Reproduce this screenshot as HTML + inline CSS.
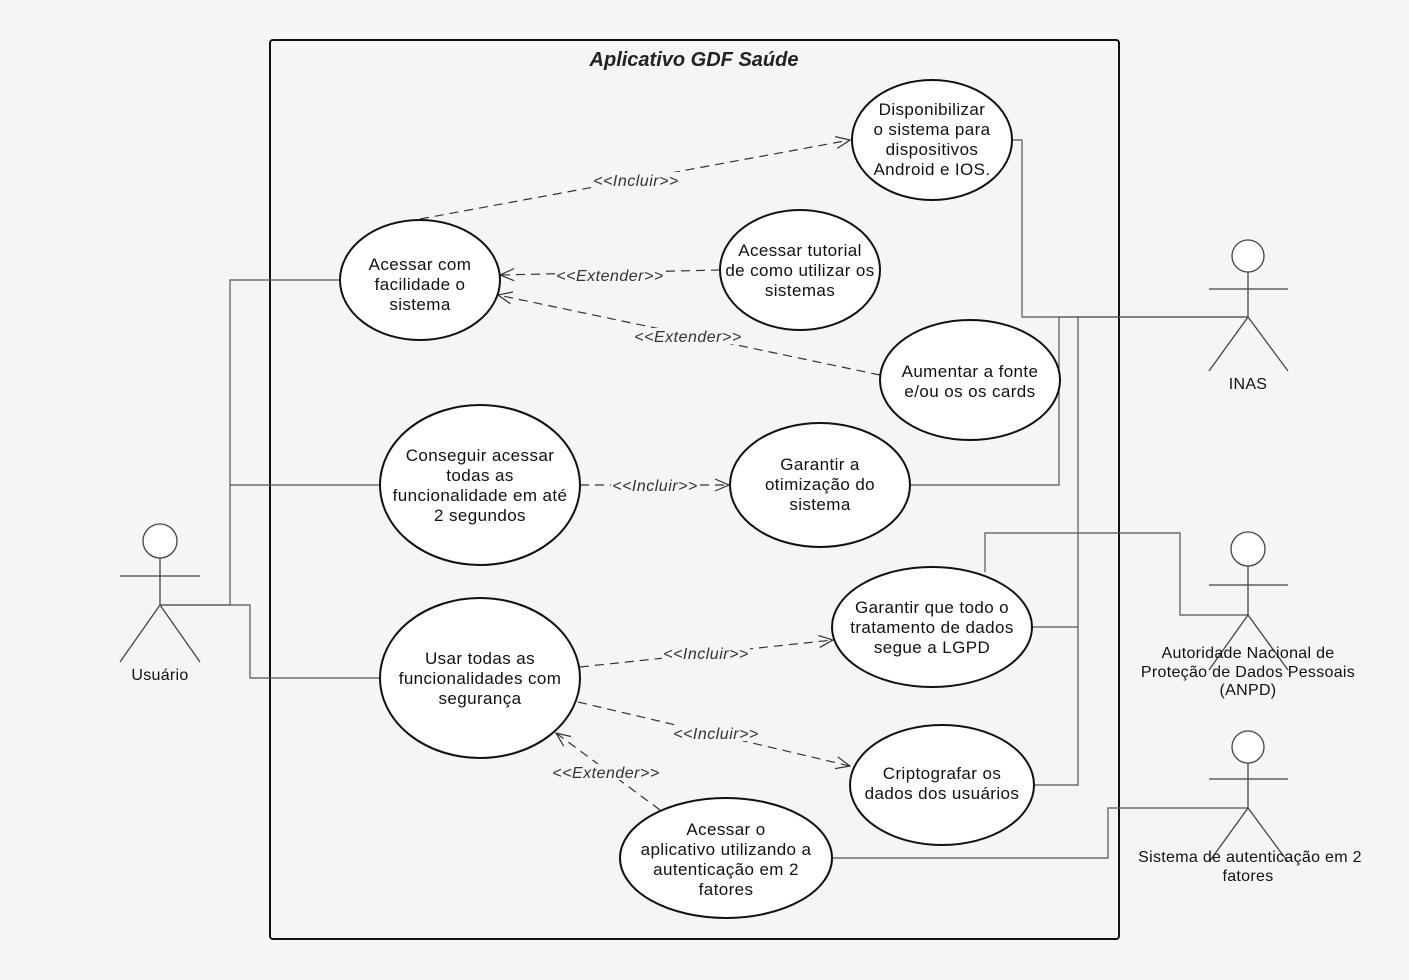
<!DOCTYPE html>
<html><head><meta charset="utf-8"><style>
html,body{margin:0;padding:0;background:#f5f5f5}
svg{display:block;font-family:"Liberation Sans",sans-serif}
</style></head><body>
<svg width="1409" height="980" viewBox="0 0 1409 980" xmlns="http://www.w3.org/2000/svg">
<defs>
<marker id="a" markerWidth="16" markerHeight="14" refX="15" refY="7" orient="auto" markerUnits="userSpaceOnUse">
<path d="M1,1 L15,7 L1,13" fill="none" stroke="#333" stroke-width="1.2"/></marker>
</defs>
<rect width="1409" height="980" fill="#f5f5f5"/>
<rect x="270" y="40" width="849" height="899" rx="3" fill="none" stroke="#111" stroke-width="2"/>
<text x="694" y="66" text-anchor="middle" font-size="20" font-weight="bold" font-style="italic" fill="#222">Aplicativo GDF Saúde</text>

<g fill="none" stroke="#555" stroke-width="1.2">
<path d="M1012,140 H1022 V317 H1248"/>
<path d="M910,485 H1059 V317 H1248"/>
<path d="M1032,627 H1078 V317"/>
<path d="M1033,785 H1078 V627"/>
<path d="M985,572 V533 H1180 V615 H1248"/>
<path d="M832,858 H1108 V808 H1248"/>
<path d="M160,605 H230 V280 H340"/>
<path d="M230,485 H380"/>
<path d="M160,605 H250 V678 H380"/>
</g>

<g fill="none" stroke="#333" stroke-width="1.2" stroke-dasharray="9,6">
<line x1="420" y1="219" x2="850" y2="140" marker-end="url(#a)"/>
<line x1="720" y1="270" x2="500" y2="275" marker-end="url(#a)"/>
<line x1="880" y1="375" x2="498" y2="295" marker-end="url(#a)"/>
<line x1="580" y1="485" x2="729" y2="485" marker-end="url(#a)"/>
<line x1="580" y1="667" x2="833" y2="640" marker-end="url(#a)"/>
<line x1="578" y1="702" x2="850" y2="766" marker-end="url(#a)"/>
<line x1="660" y1="810" x2="556" y2="733" marker-end="url(#a)"/>
</g>
<g font-size="16" font-style="italic" fill="#333" text-anchor="middle" letter-spacing="0.5">
<rect x="592" y="172" width="88" height="16" fill="#f5f5f5"/><text x="636" y="186">&lt;&lt;Incluir&gt;&gt;</text>
<rect x="556" y="267" width="108" height="16" fill="#f5f5f5"/><text x="610" y="281">&lt;&lt;Extender&gt;&gt;</text>
<rect x="634" y="328" width="108" height="16" fill="#f5f5f5"/><text x="688" y="342">&lt;&lt;Extender&gt;&gt;</text>
<rect x="611" y="477" width="88" height="16" fill="#f5f5f5"/><text x="655" y="491">&lt;&lt;Incluir&gt;&gt;</text>
<rect x="662" y="645" width="88" height="16" fill="#f5f5f5"/><text x="706" y="659">&lt;&lt;Incluir&gt;&gt;</text>
<rect x="672" y="725" width="88" height="16" fill="#f5f5f5"/><text x="716" y="739">&lt;&lt;Incluir&gt;&gt;</text>
<rect x="552" y="764" width="108" height="16" fill="#f5f5f5"/><text x="606" y="778">&lt;&lt;Extender&gt;&gt;</text>
</g>

<g fill="#fff" stroke="#111" stroke-width="2">
<ellipse cx="932" cy="140" rx="80" ry="60"/>
<ellipse cx="420" cy="280" rx="80" ry="60"/>
<ellipse cx="800" cy="270" rx="80" ry="60"/>
<ellipse cx="970" cy="380" rx="90" ry="60"/>
<ellipse cx="480" cy="485" rx="100" ry="80"/>
<ellipse cx="820" cy="485" rx="90" ry="62"/>
<ellipse cx="932" cy="627" rx="100" ry="60"/>
<ellipse cx="480" cy="678" rx="100" ry="80"/>
<ellipse cx="942" cy="785" rx="92" ry="60"/>
<ellipse cx="726" cy="858" rx="106" ry="60"/>
</g>
<g font-size="17" fill="#111" text-anchor="middle" letter-spacing="0.4">
<text x="932" y="115">Disponibilizar</text><text x="932" y="135">o sistema para</text><text x="932" y="155">dispositivos</text><text x="932" y="175">Android e IOS.</text>
<text x="420" y="270">Acessar com</text><text x="420" y="290">facilidade o</text><text x="420" y="310">sistema</text>
<text x="800" y="256">Acessar tutorial</text><text x="800" y="276">de como utilizar os</text><text x="800" y="296">sistemas</text>
<text x="970" y="377">Aumentar a fonte</text><text x="970" y="397">e/ou os os cards</text>
<text x="480" y="461">Conseguir acessar</text><text x="480" y="481">todas as</text><text x="480" y="501">funcionalidade em até</text><text x="480" y="521">2 segundos</text>
<text x="820" y="470">Garantir a</text><text x="820" y="490">otimização do</text><text x="820" y="510">sistema</text>
<text x="932" y="613">Garantir que todo o</text><text x="932" y="633">tratamento de dados</text><text x="932" y="653">segue a LGPD</text>
<text x="480" y="664">Usar todas as</text><text x="480" y="684">funcionalidades com</text><text x="480" y="704">segurança</text>
<text x="942" y="779">Criptografar os</text><text x="942" y="799">dados dos usuários</text>
<text x="726" y="835">Acessar o</text><text x="726" y="855">aplicativo utilizando a</text><text x="726" y="875">autenticação em 2</text><text x="726" y="895">fatores</text>
</g>

<g fill="none" stroke="#444" stroke-width="1.3">
<circle cx="1248" cy="256" r="16" fill="#fff"/><path d="M1248,272 V317 M1209,289 H1288 M1209,371 L1248,317 L1288,371"/>
<circle cx="160" cy="541" r="17" fill="#fff"/><path d="M160,558 V605 M120,576 H200 M120,662 L160,605 L200,662"/>
<circle cx="1248" cy="549" r="17" fill="#fff"/><path d="M1248,566 V615 M1209,585 H1288 M1209,670 L1248,615 L1288,670"/>
<circle cx="1248" cy="747" r="16" fill="#fff"/><path d="M1248,763 V808 M1209,779 H1288 M1209,862 L1248,808 L1288,862"/>
</g>
<g font-size="16" fill="#111" text-anchor="middle" letter-spacing="0.3">
<text x="1248" y="389">INAS</text>
<text x="160" y="680">Usuário</text>
<text x="1248" y="658">Autoridade Nacional de</text><text x="1248" y="677">Proteção de Dados Pessoais</text><text x="1248" y="695">(ANPD)</text>
<text x="1250" y="862">Sistema de autenticação em 2</text><text x="1248" y="881">fatores</text>
</g>
</svg>
</body></html>
